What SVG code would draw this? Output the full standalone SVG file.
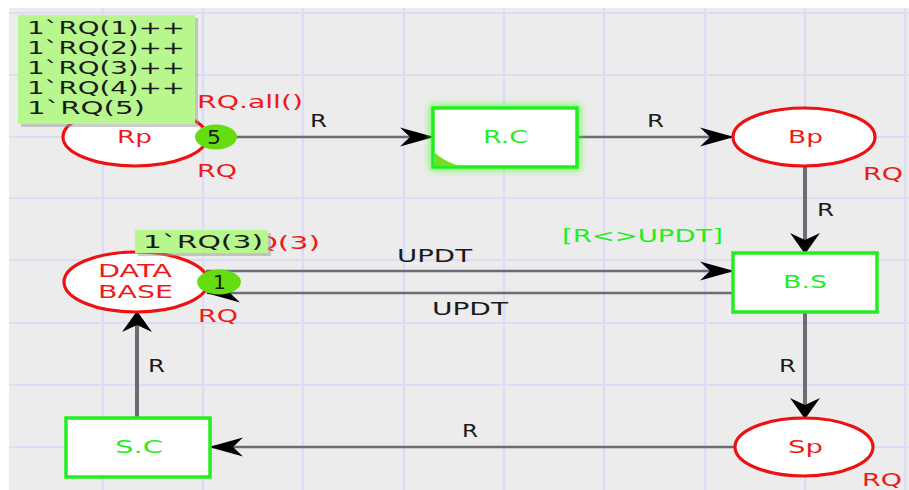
<svg xmlns="http://www.w3.org/2000/svg" width="909" height="490" viewBox="0 0 909 490">
<defs>
<style>
text{font-family:"DejaVu Sans","Liberation Sans",sans-serif;font-size:17px}
.pl{fill:#ee1a1a}
.tr{fill:#22ee22}
.blk{fill:#1a1a1a}
.num{font-size:20px}
.place{fill:#ffffff;stroke:#ee1111;stroke-width:3.2}
.trans{fill:#ffffff;stroke:#22ee22;stroke-width:3.5}
.tok{fill:#66dd11}
.arcH{stroke:#6c6c76;stroke-width:2.6;fill:none}
.arcV{stroke:#6c6c76;stroke-width:4;fill:none}
.gv{stroke:#dcdcf4;stroke-width:2.5}
.gh{stroke:#dcdcf4;stroke-width:2}
.tip{fill:#b8f68e}
.shadow{fill:#9a9a9a;opacity:0.5}
</style>
<marker id="ah" markerUnits="userSpaceOnUse" viewBox="-34 -12 36 24" refX="0" refY="0" markerWidth="36" markerHeight="24" orient="auto">
<path d="M1,0 L-33,-9.5 L-23,0 L-33,9.5 Z" fill="#000000"/>
</marker>
<marker id="av" markerUnits="userSpaceOnUse" viewBox="-22 -17 24 34" refX="0" refY="0" markerWidth="24" markerHeight="34" orient="auto">
<path d="M1,0 L-20,-15 L-13,0 L-20,15 Z" fill="#000000"/>
</marker>
<filter id="glow" x="-20%" y="-40%" width="140%" height="180%">
<feGaussianBlur stdDeviation="3.5"/>
</filter>
</defs>

<rect x="0" y="0" width="909" height="490" fill="#ffffff"/>
<rect x="9" y="8" width="900" height="482" fill="#ececec"/>
<g id="grid">
<line class="gv" x1="103" y1="8" x2="103" y2="490"/>
<line class="gv" x1="203" y1="8" x2="203" y2="490"/>
<line class="gv" x1="303" y1="8" x2="303" y2="490"/>
<line class="gv" x1="404" y1="8" x2="404" y2="490"/>
<line class="gv" x1="504" y1="8" x2="504" y2="490"/>
<line class="gv" x1="604" y1="8" x2="604" y2="490"/>
<line class="gv" x1="705" y1="8" x2="705" y2="490"/>
<line class="gv" x1="805" y1="8" x2="805" y2="490"/>
<line class="gv" x1="905" y1="8" x2="905" y2="490"/>
<line class="gh" x1="9" y1="13" x2="909" y2="13"/>
<line class="gh" x1="9" y1="75" x2="909" y2="75"/>
<line class="gh" x1="9" y1="137" x2="909" y2="137"/>
<line class="gh" x1="9" y1="198" x2="909" y2="198"/>
<line class="gh" x1="9" y1="260" x2="909" y2="260"/>
<line class="gh" x1="9" y1="323" x2="909" y2="323"/>
<line class="gh" x1="9" y1="385" x2="909" y2="385"/>
<line class="gh" x1="9" y1="447" x2="909" y2="447"/>
</g>

<g id="connectors">
<line class="arcH" x1="236" y1="137" x2="433" y2="137" marker-end="url(#ah)"/>
<text class="blk" x="310" y="127" textLength="17" lengthAdjust="spacingAndGlyphs">R</text>
<line class="arcH" x1="577" y1="137" x2="733" y2="137" marker-end="url(#ah)"/>
<text class="blk" x="647" y="127" textLength="17" lengthAdjust="spacingAndGlyphs">R</text>
<line class="arcV" x1="805" y1="167" x2="805" y2="253" marker-end="url(#av)"/>
<text class="blk" x="817" y="216" textLength="17" lengthAdjust="spacingAndGlyphs">R</text>
<line class="arcH" x1="206" y1="271" x2="733" y2="271" marker-end="url(#ah)"/>
<text class="blk" x="397" y="262" textLength="75" lengthAdjust="spacingAndGlyphs">UPDT</text>
<line class="arcH" x1="733" y1="293" x2="207" y2="293" marker-end="url(#ah)"/>
<text class="blk" x="432" y="315" textLength="76" lengthAdjust="spacingAndGlyphs">UPDT</text>
<line class="arcV" x1="805" y1="312" x2="805" y2="418" marker-end="url(#av)"/>
<text class="blk" x="779" y="372" textLength="17" lengthAdjust="spacingAndGlyphs">R</text>
<line class="arcH" x1="735" y1="447" x2="210" y2="447" marker-end="url(#ah)"/>
<text class="blk" x="462" y="437" textLength="16" lengthAdjust="spacingAndGlyphs">R</text>
<line class="arcV" x1="137" y1="418" x2="137" y2="312" marker-end="url(#av)"/>
<text class="blk" x="148" y="372" textLength="17" lengthAdjust="spacingAndGlyphs">R</text>
</g>

<g id="Rp">
<ellipse class="place" cx="135" cy="137" rx="72" ry="29"/>
<text class="pl" x="117" y="143" textLength="35" lengthAdjust="spacingAndGlyphs">Rp</text>
<text class="pl" x="197" y="108" textLength="106" lengthAdjust="spacingAndGlyphs">RQ.all()</text>
<text class="pl" x="197" y="177" textLength="40" lengthAdjust="spacingAndGlyphs">RQ</text>
<ellipse class="tok" cx="216" cy="137" rx="21" ry="12.5"/>
<text class="blk num" x="207" y="144" textLength="14" lengthAdjust="spacingAndGlyphs">5</text>
</g>

<g id="RC">
<rect x="433" y="108" width="144" height="59" fill="none" stroke="#44ff22" stroke-width="6" opacity="0.8" filter="url(#glow)"/>
<rect class="trans" x="433" y="108" width="144" height="59"/>
<path d="M435,153 Q445,162 460,166 L435,166 Z" fill="#77dd22"/>
<text class="tr" x="483" y="143" textLength="45" lengthAdjust="spacingAndGlyphs">R.C</text>
</g>

<g id="Bp">
<ellipse class="place" cx="804" cy="137" rx="71" ry="29"/>
<text class="pl" x="788" y="143" textLength="35" lengthAdjust="spacingAndGlyphs">Bp</text>
<text class="pl" x="863" y="180" textLength="40" lengthAdjust="spacingAndGlyphs">RQ</text>
</g>

<g id="BS">
<rect class="trans" x="733" y="253" width="144" height="59"/>
<text class="tr" x="783" y="288" textLength="44" lengthAdjust="spacingAndGlyphs">B.S</text>
<text class="tr" x="562" y="242" textLength="161" lengthAdjust="spacingAndGlyphs">[R&lt;&gt;UPDT]</text>
</g>

<g id="DB">
<ellipse class="place" cx="136" cy="282" rx="72" ry="30"/>
<text class="pl" x="98" y="277" textLength="74" lengthAdjust="spacingAndGlyphs">DATA</text>
<text class="pl" x="98" y="298" textLength="75" lengthAdjust="spacingAndGlyphs">BASE</text>
<text class="pl" x="200" y="249" textLength="120" lengthAdjust="spacingAndGlyphs">1`RQ(3)</text>
<text class="pl" x="198" y="322" textLength="40" lengthAdjust="spacingAndGlyphs">RQ</text>
<ellipse class="tok" cx="219" cy="282" rx="22" ry="12.5"/>
<text class="blk num" x="213" y="289" textLength="13" lengthAdjust="spacingAndGlyphs">1</text>
</g>

<g id="Sp">
<ellipse class="place" cx="804" cy="447" rx="69" ry="29"/>
<text class="pl" x="788" y="453" textLength="35" lengthAdjust="spacingAndGlyphs">Sp</text>
<text class="pl" x="862" y="486" textLength="40" lengthAdjust="spacingAndGlyphs">RQ</text>
</g>

<g id="SC">
<rect class="trans" x="66" y="418" width="144" height="59"/>
<text class="tr" x="115" y="453" textLength="48" lengthAdjust="spacingAndGlyphs">S.C</text>
</g>

<g id="tooltips">
<rect class="shadow" x="21" y="18" width="177" height="109"/>
<rect class="tip" x="18" y="15" width="177" height="109"/>
<text class="blk" x="27" y="34" textLength="158" lengthAdjust="spacingAndGlyphs">1`RQ(1)++</text>
<text class="blk" x="27" y="54" textLength="158" lengthAdjust="spacingAndGlyphs">1`RQ(2)++</text>
<text class="blk" x="27" y="74" textLength="158" lengthAdjust="spacingAndGlyphs">1`RQ(3)++</text>
<text class="blk" x="27" y="94" textLength="158" lengthAdjust="spacingAndGlyphs">1`RQ(4)++</text>
<text class="blk" x="27" y="114" textLength="118" lengthAdjust="spacingAndGlyphs">1`RQ(5)</text>
<rect class="shadow" x="138" y="233" width="133" height="23"/>
<rect class="tip" x="135" y="230" width="133" height="23"/>
<text class="blk" x="143" y="248" textLength="120" lengthAdjust="spacingAndGlyphs">1`RQ(3)</text>
</g>
</svg>
